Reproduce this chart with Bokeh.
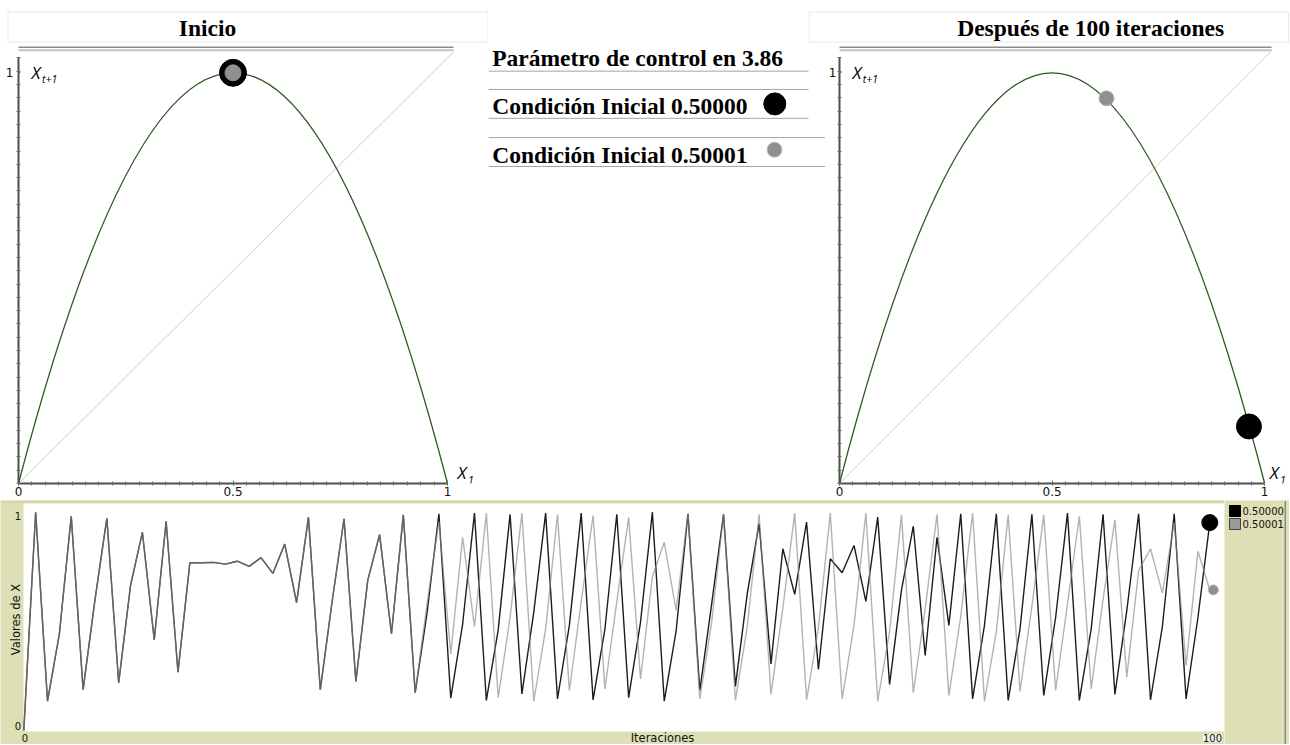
import math
from bokeh.plotting import figure
from bokeh.layouts import column, row
from bokeh.models import (Range1d, LinearAxis, FixedTicker, Label, BoxAnnotation,
                          Spacer, ColumnDataSource)
from bokeh.embed import file_html
from bokeh.resources import INLINE

# ---------------- data ----------------
r_param = "3.86"
init_labels = ["Condición Inicial 0.50000", "Condición Inicial 0.50001"]
legend_labels = ["0.50000", "0.50001"]
titles = ["Inicio", "Después de 100 iteraciones"]
param_label = "Parámetro de control en " + r_param

map_x_ends = [0.0, 1.0]      # parabola end points on the X axis
map_peak = 0.965             # height of the parabola at X = 0.5
diag = [0.0, 1.016]          # identity line X_{t+1} = X_t
map_x_ticks = [0, 0.5, 1]
map_x_tick_labels = ["0", "0.5", "1"]
map_y_tick_pos = 0.965       # where the "1" label sits on the vertical axis
map_y_tick_label = "1"

start_x, start_y = 0.5, 0.965          # both initial conditions (Inicio)
end_a_x, end_a_y = 0.963, 0.134        # 0.50000 after 100 iterations
end_b_x, end_b_y = 0.628, 0.905        # 0.50001 after 100 iterations

iteraciones = list(range(101))
serie_a = [0.0, 0.966, 0.130, 0.428, 0.948, 0.181, 0.578, 0.939, 0.211, 0.642,
           0.877, 0.401, 0.926, 0.258, 0.742, 0.742, 0.744, 0.736, 0.749, 0.726,
           0.765, 0.695, 0.825, 0.566, 0.944, 0.181, 0.572, 0.937, 0.217, 0.664,
           0.867, 0.428, 0.954, 0.167, 0.520, 0.959, 0.143, 0.470, 0.962, 0.133,
           0.445, 0.956, 0.162, 0.524, 0.962, 0.140, 0.465, 0.962, 0.135, 0.450,
           0.957, 0.145, 0.480, 0.966, 0.130, 0.440, 0.959, 0.177, 0.560, 0.957,
           0.195, 0.606, 0.915, 0.295, 0.804, 0.602, 0.922, 0.270, 0.760, 0.698,
           0.819, 0.571, 0.944, 0.204, 0.620, 0.904, 0.332, 0.855, 0.465, 0.959,
           0.140, 0.465, 0.959, 0.133, 0.450, 0.957, 0.155, 0.500, 0.962, 0.133,
           0.450, 0.957, 0.160, 0.530, 0.959, 0.135, 0.460, 0.959, 0.140, 0.500,
           0.920]
serie_b = [0.0, 0.966, 0.130, 0.428, 0.948, 0.181, 0.578, 0.939, 0.211, 0.642,
           0.877, 0.401, 0.926, 0.258, 0.742, 0.742, 0.744, 0.736, 0.749, 0.726,
           0.765, 0.695, 0.825, 0.566, 0.944, 0.181, 0.572, 0.937, 0.217, 0.664,
           0.867, 0.428, 0.954, 0.167, 0.560, 0.925, 0.339, 0.855, 0.460, 0.962,
           0.145, 0.500, 0.962, 0.130, 0.450, 0.955, 0.177, 0.570, 0.951, 0.184,
           0.570, 0.942, 0.228, 0.680, 0.833, 0.531, 0.960, 0.140, 0.480, 0.957,
           0.133, 0.460, 0.957, 0.160, 0.540, 0.962, 0.136, 0.454, 0.962, 0.140,
           0.465, 0.962, 0.130, 0.437, 0.954, 0.167, 0.537, 0.957, 0.155, 0.505,
           0.962, 0.130, 0.437, 0.954, 0.173, 0.550, 0.954, 0.177, 0.560, 0.948,
           0.184, 0.580, 0.932, 0.236, 0.708, 0.804, 0.608, 0.920, 0.288, 0.793,
           0.622]
ts_x_tick_labels = ["0", "100"]
ts_y_tick_labels = ["0", "1"]
ts_xlabel = "Iteraciones"
ts_ylabel = "Valores de X"

# ---------------- styles ----------------
GREEN = "#2a5a20"
BEIGE = "#dfdfb6"
SERIF = "Liberation Serif"
SANS = "DejaVu Sans"
ITAL = "Open Sans"
BIG = "23.5px"
DARK = "#1c1c1c"
LIGHT = "#8a8a8a"
minor_vals = [k / 32 for k in range(33)]


def base_fig(w, h, xr, yr, **kw):
    p = figure(width=w, height=h, x_range=xr, y_range=yr, output_backend="svg",
               toolbar_location=None, x_axis_type=None, y_axis_type=None, **kw)
    p.grid.visible = False
    p.outline_line_color = None
    return p


def big_label(x, y, text):
    return Label(x=x, y=y, text=text, text_font=SERIF, text_font_style="bold",
                 text_font_size=BIG, text_baseline="middle", text_align="left",
                 text_color="black")


def ital(x, y, text, size):
    return Label(x=x, y=y, text=text, text_font=ITAL, text_font_style="italic",
                 text_font_size=size, text_baseline="middle", text_color="#000000")


# ---------------- title boxes (page-pixel panels) ----------------
def title_fig(w, text, text_left, box_left, box_right):
    p = base_fig(w, 44, Range1d(0, w), Range1d(44, 0),
                 min_border_left=0, min_border_right=0, min_border_top=0, min_border_bottom=0)
    p.add_layout(BoxAnnotation(left=box_left, right=box_right, top=11.5, bottom=41.5,
                               fill_alpha=0, line_color="#b4b4b4", line_width=1))
    p.add_layout(big_label(text_left, 27.7, text))
    return p


t_left = title_fig(488, titles[0], 178.3, 7.5, 487.5)
t_right = title_fig(481, titles[1], 148.7, 0.5, 480)
t_gap = Spacer(width=320, height=44)


# ---------------- map charts ----------------
def map_fig(w, mb_left, x0_px, sx, dots, xlab_left, standoff):
    sy = 425.6
    frame_w = w - mb_left
    p = base_fig(w, 456, Range1d(0, frame_w / sx), Range1d(0, 439 / sy),
                 min_border_left=mb_left, min_border_right=0,
                 min_border_top=0, min_border_bottom=17)
    p.background_fill_color = "white"
    p.border_fill_color = "white"

    def px(v):
        return (v - x0_px) / sx

    def py(v):
        return (483 - v) / sy

    xaxis = LinearAxis(ticker=FixedTicker(ticks=map_x_ticks, minor_ticks=minor_vals),
                       bounds=(0, 1), axis_line_color="#505050", axis_line_width=2,
                       major_tick_in=3, major_tick_out=2, minor_tick_in=2, minor_tick_out=2,
                       major_tick_line_color="#6a6a6a", minor_tick_line_color="#6a6a6a",
                       major_label_text_font=SANS, major_label_text_font_size="12px",
                       major_label_text_color="#111111", major_label_standoff=1,
                       major_label_overrides={t: l for t, l in zip(map_x_ticks, map_x_tick_labels)})
    yaxis = LinearAxis(ticker=FixedTicker(ticks=[map_y_tick_pos], minor_ticks=minor_vals),
                       bounds=(0, 1), axis_line_color="#505050", axis_line_width=2,
                       major_tick_in=2, major_tick_out=0, minor_tick_in=2, minor_tick_out=2,
                       major_tick_line_color="#6a6a6a", minor_tick_line_color="#6a6a6a",
                       major_label_text_font=SANS, major_label_text_font_size="12px",
                       major_label_text_color="#111111", major_label_standoff=standoff,
                       major_label_overrides={map_y_tick_pos: map_y_tick_label})
    p.add_layout(xaxis, "below")
    p.add_layout(yaxis, "left")

    # double rule at the top of the panel
    p.add_layout(BoxAnnotation(left=px(x0_px - 4), right=px(x0_px + 435), top=py(46), bottom=py(47.6),
                               fill_color="#8c8c8c", fill_alpha=1, line_color=None))
    p.add_layout(BoxAnnotation(left=px(x0_px - 4), right=px(x0_px + 435), top=py(48.8), bottom=py(50.8),
                               fill_color="#c4c4c4", fill_alpha=1, line_color=None))

    p.line(diag, diag, line_color="#cdcdcd", line_width=1)
    p.quadratic(x0=[map_x_ends[0]], y0=[0], x1=[map_x_ends[1]], y1=[0],
                cx=[(map_x_ends[0] + map_x_ends[1]) / 2], cy=[2 * map_peak],
                line_color=GREEN, line_width=1.3)
    for (x, y, size, fill, line) in dots:
        p.scatter(x=[x], y=[y], size=size, fill_color=fill, line_color=line, line_width=1)

    p.add_layout(ital(px(x0_px + 13), py(72), "X", "17px"))
    p.add_layout(ital(px(x0_px + 23.5), py(78), "t+1", "10.5px"))
    p.add_layout(ital(px(xlab_left), py(472), "X", "17px"))
    p.add_layout(ital(px(xlab_left + 10.5), py(479), "1", "10.5px"))
    return p


left = map_fig(488, 18, 18, 429,
               [(start_x, start_y, 27, "black", "black"),
                (start_x, start_y, 16, "#8f8f8f", "#8f8f8f")],
               457, 3)
right = map_fig(464, 11, 836, 428,
                [(end_a_x, end_a_y, 25, "black", "black"),
                 (end_b_x, end_b_y, 15, "#8f8f8f", "#b8b8b8")],
                1269, 1)

# ---------------- middle legend panel (page-pixel panel) ----------------
MID_W = 337
mid = base_fig(MID_W, 456, Range1d(0, MID_W), Range1d(456, 0),
               min_border_left=0, min_border_right=0, min_border_top=0, min_border_bottom=0)
rule_y = [27.7, 46.7, 76.7, 96.7, 126.7]
rule_x1 = [320, 320, 320, MID_W, MID_W]
mid.segment(x0=[0] * 5, y0=rule_y, x1=rule_x1, y1=rule_y, line_color="#a4a4a4", line_width=1)
for text, yc in zip([param_label] + init_labels, [14, 64, 114.7]):
    mid.add_layout(big_label(3.7, yc, text))
mid.scatter(x=[286.3], y=[61.7], size=22, fill_color="black", line_color="black")
mid.scatter(x=[286.0], y=[109.3], size=15, fill_color="#8f8f8f", line_color="#c0c0c0")

# ---------------- time series ----------------
SX = 11.86     # px per iteration
SY = 226.0     # px per unit of X
X_AT0 = 23.3   # page x of iteration 0
Y_AT0 = 730.0  # page y of value 0
TOP = 500.0
H_TS = 244


def bx(page_x):
    return (page_x - X_AT0) / SX


def by(page_y):
    return (Y_AT0 - page_y) / SY


ts = base_fig(1224, H_TS, Range1d(bx(0), bx(1224)), Range1d(by(TOP + H_TS), by(TOP)),
              min_border_left=0, min_border_right=0, min_border_top=0, min_border_bottom=0)
ts.background_fill_color = BEIGE
ts.border_fill_color = BEIGE
ts.add_layout(BoxAnnotation(left=bx(23), right=bx(1225), top=by(503), bottom=by(731),
                            fill_color="white", fill_alpha=1, line_color=None, level="underlay"))
ts.add_layout(BoxAnnotation(left=bx(0), right=bx(1225), top=by(500), bottom=by(502),
                            fill_color="#d2d2a8", fill_alpha=1, line_color=None, level="underlay"))

src = ColumnDataSource(dict(i=iteraciones, a=serie_a, b=serie_b))
ts.line("i", "a", source=src, line_color=DARK, line_width=1.4)
ts.line("i", "b", source=src, line_color=LIGHT, line_alpha=0.65, line_width=1.4)
ts.scatter(x=[iteraciones[-1]], y=[serie_a[-1]], size=16, fill_color="black", line_color="black")
ts.scatter(x=[iteraciones[-1] + 0.3], y=[serie_b[-1]], size=10, fill_color="#8f8f8f",
           line_color="#b8b8b8")


def small(x, y, text, size="10px", align="center", **kw):
    return Label(x=x, y=y, text=text, text_font=SANS, text_font_size=size,
                 text_align=align, text_baseline="middle", text_color="#111111", **kw)


ts.add_layout(small(bx(17.5), by(515), ts_y_tick_labels[1]))
ts.add_layout(small(bx(17.5), by(725), ts_y_tick_labels[0]))
ts.add_layout(small(bx(15), by(619), ts_ylabel, size="11.5px", angle=math.pi / 2))
ts.add_layout(small(bx(24.5), by(737.5), ts_x_tick_labels[0]))
ts.add_layout(small(bx(662), by(737), ts_xlabel, size="11.5px"))
ts.add_layout(small(bx(1212), by(737.5), ts_x_tick_labels[1],
                    background_fill_color="#f3f3ee", background_fill_alpha=1))

# ---------------- legend of the time series (page-pixel panel) ----------------
LG_W = 65
lg = base_fig(LG_W, H_TS, Range1d(0, LG_W), Range1d(H_TS, 0),
              min_border_left=0, min_border_right=0, min_border_top=0, min_border_bottom=0)
lg.background_fill_color = BEIGE
lg.border_fill_color = BEIGE
swatch_fill = ["black", "#9a9a9a"]
swatch_line = ["black", "#444444"]
swatch_top = [5, 18]
lg.quad(left=[5, 5], right=[16, 16], top=swatch_top, bottom=[t + 11 for t in swatch_top],
        fill_color=swatch_fill, line_color=swatch_line, line_width=1)
for lab, t in zip(legend_labels, swatch_top):
    lg.add_layout(small(18, t + 5.5, lab, align="left"))
lg.add_layout(BoxAnnotation(left=60, right=61.5, top=0, bottom=H_TS,
                            fill_color="#8a8a8a", fill_alpha=1, line_color=None))

layout = column(row(t_left, t_gap, t_right),
                row(left, mid, right),
                row(ts, lg))

open("out.html", "w").write(file_html(layout, INLINE))
